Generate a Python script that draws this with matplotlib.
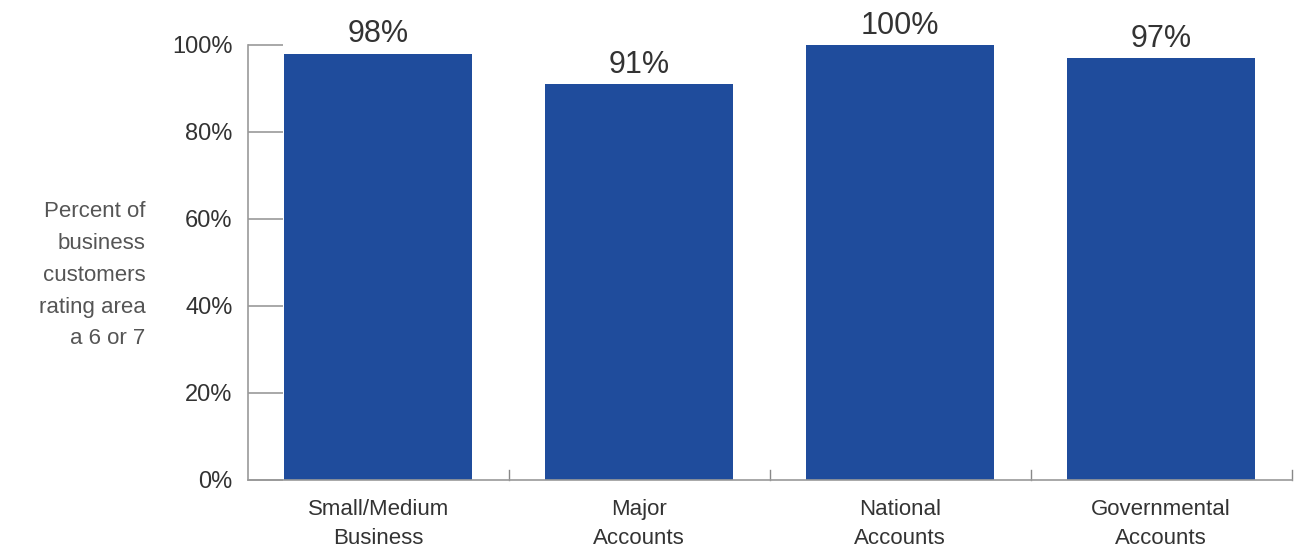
import matplotlib.pyplot as plt

# data
categories = ['Small/Medium\nBusiness', 'Major\nAccounts', 'National\nAccounts', 'Governmental\nAccounts']
values = [98, 91, 100, 97]
yticks = [0, 20, 40, 60, 80, 100]

plt.rcParams['font.family'] = ['Liberation Sans', 'DejaVu Sans']

fig = plt.figure(figsize=(12.98, 5.47), dpi=100)
ax = fig.add_axes([0.191, 0.1225, 0.804, 0.7955])

x = range(len(categories))
ax.bar(x, values, width=0.72, color='#1f4c9c')

for i, v in zip(x, values):
    ax.text(i, v + 1.0, f'{v}%', ha='center', va='bottom', fontsize=22, color='#333333')

ax.set_xlim(-0.5, len(categories) - 0.5)
ax.set_ylim(0, 100)
ax.set_yticks(yticks)
ax.set_yticklabels([f'{t}%' for t in yticks], fontsize=17, color='#333333')
ax.tick_params(axis='y', direction='in', length=25, width=1.2, color='#999999', pad=11)

ax.set_xticks(list(x))
ax.set_xticklabels(categories, fontsize=16, color='#333333', linespacing=1.45)
ax.tick_params(axis='x', length=0, pad=14)
# small separator ticks between categories
for b in [0.5, 1.5, 2.5, 3.5]:
    ax.plot([b, b], [0, 2.2], color='#888888', lw=1, clip_on=False)

for s in ['top', 'right']:
    ax.spines[s].set_visible(False)
for s in ['left', 'bottom']:
    ax.spines[s].set_color('#999999')
    ax.spines[s].set_linewidth(1.2)

fig.text(0.112, 0.497, 'Percent of\nbusiness\ncustomers\nrating area\na 6 or 7',
         ha='right', va='center', fontsize=16, color='#555555', linespacing=1.68)

plt.savefig('out.png')
